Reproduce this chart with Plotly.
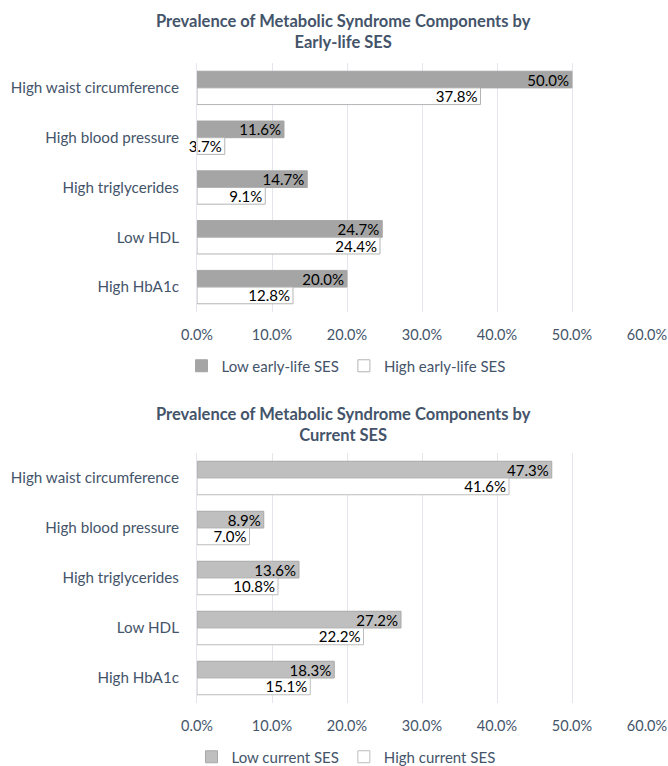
import plotly.graph_objects as go

categories = ["High waist circumference", "High blood pressure", "High triglycerides", "Low HDL", "High HbA1c"]
low_early = [50.0, 11.6, 14.7, 24.7, 20.0]
high_early = [37.8, 3.7, 9.1, 24.4, 12.8]
low_current = [47.3, 8.9, 13.6, 27.2, 18.3]
high_current = [41.6, 7.0, 10.8, 22.2, 15.1]
x_ticks = [0, 10, 20, 30, 40, 50, 60]
x_tick_labels = ["0.0%", "10.0%", "20.0%", "30.0%", "40.0%", "50.0%", "60.0%"]
title_top = "<b>Prevalence of Metabolic Syndrome Components by<br>Early-life SES</b>"
title_bottom = "<b>Prevalence of Metabolic Syndrome Components by<br>Current SES</b>"

FONT = "Lato"
AXIS_COLOR = "#44546A"
GRID = "#E3E6EA"

W, H = 668, 766

def px_x(p):
    return p / W

def px_y(p):
    return 1 - p / H

fig = go.Figure()

def add_bar(vals, name, fill, line, xaxis, yaxis, legend):
    fig.add_trace(go.Bar(
        y=categories, x=vals, name=name, orientation="h",
        marker=dict(color=fill, line=dict(color=line, width=1)),
        text=[f"{v:.1f}%" for v in vals],
        textposition="inside",
        insidetextanchor="end", constraintext="none", cliponaxis=False,
        insidetextfont=dict(color="black", size=15, family=FONT),
        xaxis=xaxis, yaxis=yaxis, legend=legend,
    ))

add_bar(low_early, "Low early-life SES", "#A5A5A5", "#A5A5A5", "x", "y", "legend")
add_bar(high_early, "High early-life SES", "#FFFFFF", "#B4B4B4", "x", "y", "legend")
add_bar(low_current, "Low current SES", "#BFBFBF", "#A8A8A8", "x2", "y2", "legend2")
add_bar(high_current, "High current SES", "#FFFFFF", "#BDBDBD", "x2", "y2", "legend2")

xcommon = dict(range=[0, 60], tickvals=x_ticks, ticktext=x_tick_labels, showgrid=True,
               gridcolor=GRID, gridwidth=1, zeroline=False, showline=False, ticks="",
               tickfont=dict(size=14.5, color=AXIS_COLOR, family=FONT), ticklabelstandoff=12,
               domain=[px_x(197), px_x(647)], fixedrange=True, automargin=False)
ycommon = dict(autorange="reversed", showgrid=False, zeroline=False, ticks="",
               showline=True, linecolor=GRID, linewidth=1, automargin=False,
               tickfont=dict(size=15.2, color=AXIS_COLOR, family=FONT), ticklabelstandoff=14)

fig.update_layout(
    width=W, height=H,
    margin=dict(l=0, r=0, t=0, b=0, autoexpand=False),
    paper_bgcolor="white", plot_bgcolor="white",
    barmode="group", bargap=0.33, bargroupgap=0,
    font=dict(family=FONT, color=AXIS_COLOR),
    xaxis=dict(**xcommon, anchor="y"),
    yaxis=dict(**ycommon, domain=[px_y(312), px_y(63)], anchor="x"),
    xaxis2=dict(**xcommon, anchor="y2"),
    yaxis2=dict(**ycommon, domain=[px_y(703), px_y(453)], anchor="x2"),
    legend=dict(orientation="h", x=px_x(346), xanchor="center", y=px_y(366), yanchor="middle",
                font=dict(size=15, color=AXIS_COLOR, family=FONT), traceorder="normal",
                itemwidth=30),
    legend2=dict(orientation="h", x=px_x(346), xanchor="center", y=px_y(757), yanchor="middle",
                 font=dict(size=15, color=AXIS_COLOR, family=FONT), traceorder="normal",
                 itemwidth=30),
    showlegend=True,
    annotations=[
        dict(text=title_top, x=px_x(344), y=px_y(31.5), xref="paper", yref="paper",
             xanchor="center", yanchor="middle", showarrow=False,
             font=dict(size=16.5, color=AXIS_COLOR, family=FONT)),
        dict(text=title_bottom, x=px_x(344), y=px_y(424), xref="paper", yref="paper",
             xanchor="center", yanchor="middle", showarrow=False,
             font=dict(size=16.5, color=AXIS_COLOR, family=FONT)),
    ],
)

fig.write_html("out.html", config={"displayModeBar": False},
               post_script="document.body.style.margin='0';document.body.style.overflow='hidden';")
